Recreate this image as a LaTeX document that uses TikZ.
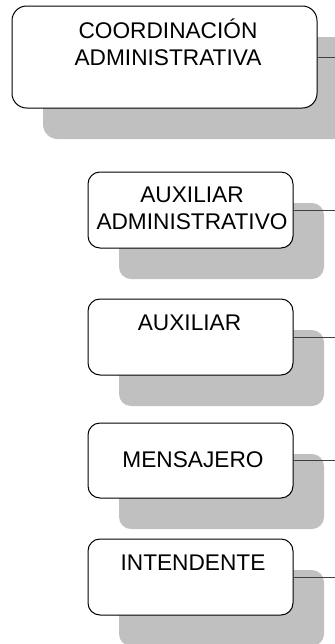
\documentclass[tikz,border=0pt]{standalone}
\usepackage{fontspec}
\setmainfont{Liberation Sans}
\usetikzlibrary{shadows}
\definecolor{sombra}{RGB}{192,192,192}
\definecolor{linea}{RGB}{64,64,64}

\begin{document}
\begin{tikzpicture}[x=0.75pt,y=0.75pt,yscale=-1,xscale=1,
  puesto/.style={draw, line width=0.75pt, fill=white, rounded corners=9pt, inner sep=0pt,
    minimum width=153.75pt, minimum height=57pt,
    drop shadow={shadow xshift=23.25pt, shadow yshift=-23.25pt, fill=sombra, opacity=1}},
  rotulo/.style={align=center, inner sep=0pt, font=\fontsize{17}{20.25}\selectfont},
  enlace/.style={draw=linea, line width=0.75pt}]
\useasboundingbox (0,0) rectangle (335,644);
\coordinate (borde) at (335,0);

%Shape: Rounded Rect
\node [puesto, minimum width=228.75pt, minimum height=76.5pt, rounded corners=11pt] (coord) at (164.5,57) {};
%Shape: Rounded Rect
\node [puesto] (auxadm) at (190.5,210) {};
%Shape: Rounded Rect
\node [puesto] (aux) at (190.5,337) {};
%Shape: Rounded Rect
\node [puesto, minimum height=56.25pt] (mens) at (190.5,460.5) {};
%Shape: Rounded Rect
\node [puesto] (inten) at (190.5,577) {};

%Straight Lines
\draw [enlace] (coord.east) -- (coord.east -| borde);
\draw [enlace] (auxadm.east) -- (auxadm.east -| borde);
\draw [enlace] (aux.east) -- (aux.east -| borde);
\draw [enlace] (mens.east) -- (mens.east -| borde);
\draw [enlace] (inten.east) -- (inten.east -| borde);

% Text Node
\node [rotulo] (coordtxt) at (168,42) {COORDINACIÓN\\ADMINISTRATIVA};
% Text Node
\node [rotulo] (auxadmtxt) at (192,208.5) {AUXILIAR\\ADMINISTRATIVO};
% Text Node
\node [rotulo] (auxtxt) at (189.5,323) {AUXILIAR};
% Text Node
\node [rotulo] (menstxt) at (193,459.5) {MENSAJERO};
% Text Node
\node [rotulo] (intentxt) at (193,563) {INTENDENTE};

\end{tikzpicture}
\end{document}
